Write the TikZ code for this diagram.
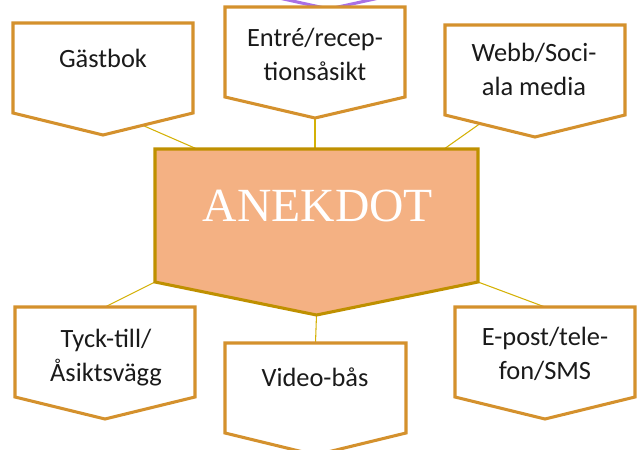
\documentclass[tikz,border=0pt]{standalone}
\usepackage{fontspec}
\setmainfont{Carlito}
\newfontfamily\titlefont{Liberation Serif}
\usetikzlibrary{calc}

\definecolor{boxline}{HTML}{D4912D}
\definecolor{mainline}{HTML}{BF9000}
\definecolor{mainfill}{HTML}{F4B183}
\definecolor{linkcol}{HTML}{D4B106}
\definecolor{violet}{HTML}{A970E6}
\definecolor{labeltext}{HTML}{1A1A1A}

% corner coordinates of a downward pentagon box:
% name, left, right, top, bottom of the sides, tip
\newcommand\pentcoords[6]{%
  \coordinate (#1-tl) at (#2,#4);
  \coordinate (#1-tr) at (#3,#4);
  \coordinate (#1-br) at (#3,#5);
  \coordinate (#1-tip) at ({(#2+#3)/2},#6);
  \coordinate (#1-bl) at (#2,#5);
  \coordinate (#1-top) at ({(#2+#3)/2},#4);
}
\newcommand\pentpath[1]{(#1-tl) -- (#1-tr) -- (#1-br) -- (#1-tip) -- (#1-bl) -- cycle}

\tikzset{
  smallbox/.style={draw=boxline, line width=2.3pt, fill=white, line join=miter},
  mainbox/.style={draw=mainline, line width=2.3pt, fill=mainfill, line join=miter},
  link/.style={draw=linkcol, line width=0.8pt},
  lbl/.style={font=\fontsize{19.8pt}{25pt}\selectfont, text=labeltext,
              align=center, anchor=base, inner sep=0pt},
  title/.style={font=\titlefont\fontsize{35.7pt}{40pt}\selectfont, text=white,
                anchor=base, inner sep=0pt},
}

\begin{document}
\begin{tikzpicture}[x=0.75pt, y=-0.75pt]
\useasboundingbox (0,0) rectangle (644,450);
\clip (0,0) rectangle (644,450);

% box geometry
\pentcoords{m}{155}{478}{149}{282}{315}
\pentcoords{g}{13}{193}{23}{113}{135}
\pentcoords{e}{225}{405}{7}{97}{118}
\pentcoords{w}{445}{625}{25}{115}{137}
\pentcoords{t}{15}{195}{307}{397}{419}
\pentcoords{v}{225}{406}{343}{433}{455}
\pentcoords{p}{455}{635}{307}{397}{419}

% tip of the violet shape above the top box
\draw[draw=violet, line width=2.3pt] (268,-4.4) -- (329,9) -- (390,-4.4);

% connector end points
\coordinate (g-c) at ($(g-tip)!0.44!(g-br)$);
\coordinate (m-cg) at ($(m-tl)!0.13!(m-tr)$);
\coordinate (w-c) at ($(w-bl)!0.39!(w-tip)$);
\coordinate (m-cw) at ($(m-tl)!0.895!(m-tr)$);
\coordinate (m-ce) at (e-tip |- m-tl);

% connectors
\draw[link] (g-c) -- (m-cg);
\draw[link] (e-tip) -- (m-ce);
\draw[link] (w-c) -- (m-cw);
\draw[link] (t-top) -- (m-bl);
\draw[link] (p-top) -- (m-br);
\draw[link] (m-tip) -- (v-top);

% boxes
\draw[mainbox] \pentpath{m};
\draw[smallbox] \pentpath{g};
\draw[smallbox] \pentpath{e};
\draw[smallbox] \pentpath{w};
\draw[smallbox] \pentpath{t};
\draw[smallbox] \pentpath{v};
\draw[smallbox] \pentpath{p};

% labels (base = baseline of the last line)
\node[title] (mt) at (318,221) {ANEKDOT};
\node[lbl] (gt) at (103,67) {Gästbok};
\node[lbl] (et) at (315,80) {Entré/recep-\\tionsåsikt};
\node[lbl] (wt) at (534,95) {Webb/Soci-\\ala media};
\node[lbl] (tt) at (106,381) {Tyck-till/\\Åsiktsvägg};
\node[lbl] (vt) at (315,386) {Video-bås};
\node[lbl] (pt) at (545,379) {E-post/tele-\\fon/SMS};
\end{tikzpicture}
\end{document}
